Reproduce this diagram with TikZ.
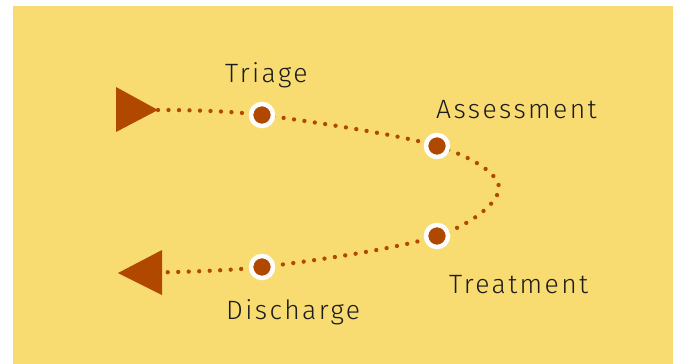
\documentclass[tikz,border=0pt]{standalone}
\usepackage{fontspec}
\setmainfont[LetterSpace=9]{Fira Sans Light}
\usetikzlibrary{backgrounds}
\definecolor{sand}{HTML}{F9DC71}
\definecolor{rust}{HTML}{B04800}
\definecolor{ink}{HTML}{1C1C1C}
\tikzset{
    stage/.style = {circle, fill=rust, draw=white, line width=4.5pt, minimum size=22pt, inner sep=0pt},
    stage-label/.style = {anchor=base west, text=ink, inner sep=0pt, font=\fontsize{26.5}{26.5}\selectfont},
    trail/.style = {rust, line width=4.3pt, line cap=round, dash pattern=on 0pt off 10.5pt},
}

\begin{document}
\begin{tikzpicture}[x=1pt, y=-1pt]
\useasboundingbox (0,0) rectangle (673,364);
% ends of the trail and the turning point
\coordinate (start) at (158,110);
\coordinate (turn) at (499,188);
\coordinate (finish) at (118,273);
% the four stages
\node[stage] (triage) at (262,115) {};
\node[stage] (assess) at (437,146) {};
\node[stage] (treat) at (437,236) {};
\node[stage] (discharge) at (262,267) {};
\begin{scope}[on background layer]
    \fill[sand] (13,6) rectangle (673,364);
    \draw[trail] plot[smooth, tension=0.55] coordinates {(start) (triage.center) (assess.center) (turn) (treat.center) (discharge.center) (finish)};
\end{scope}
% arrow heads at both ends
\fill[rust] (start) -- ++(-42,-23) -- ++(0,45) -- cycle;
\fill[rust] (finish) -- ++(44,-23) -- ++(0,45) -- cycle;
% labels
\node[stage-label] at (225,82) {Triage};
\node[stage-label] at (436,118) {Assessment};
\node[stage-label] at (449,293) {Treatment};
\node[stage-label] at (226,319) {Discharge};
\end{tikzpicture}
\end{document}
